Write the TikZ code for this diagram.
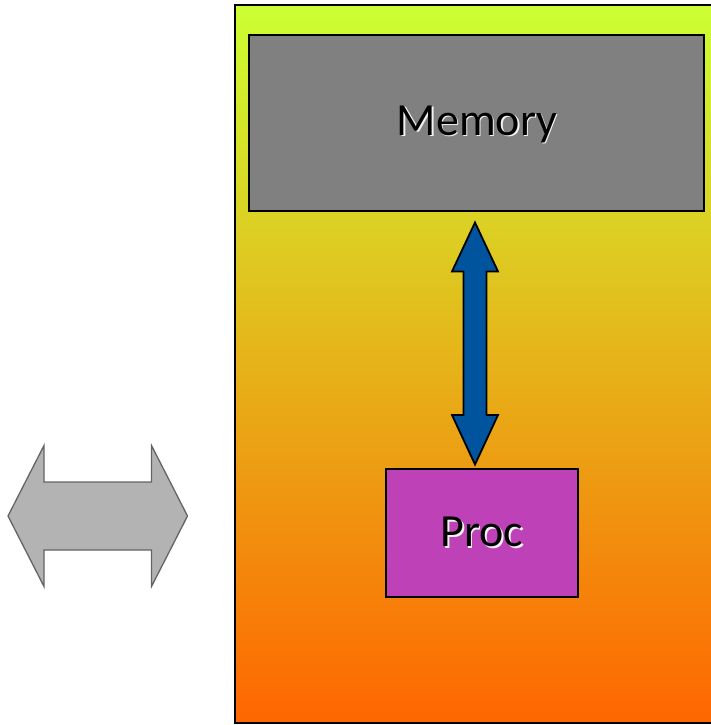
\documentclass[tikz,border=0pt]{standalone}
\usepackage{fontspec}
\setmainfont{Carlito}
\definecolor{panelTop}{RGB}{204,255,51}
\definecolor{panelMid}{RGB}{232,190,40}
\definecolor{panelBot}{RGB}{255,102,0}
\definecolor{memGray}{RGB}{128,128,128}
\definecolor{procMag}{RGB}{191,65,183}
\definecolor{busBlue}{RGB}{0,84,158}
\definecolor{linkGray}{RGB}{179,179,179}
\definecolor{linkEdge}{RGB}{100,100,100}
\tikzset{
  unitbox/.style={draw=black, line width=2pt, inner sep=0pt},
  embossed/.style={font=\fontsize{46}{50}\selectfont, text=black},
}
% text with a soft white drop shadow, set as one box
\newcommand{\embosstext}[1]{%
  \rlap{\kern1.5pt\raisebox{-1.5pt}{\textcolor{white!90!gray}{#1}}}#1}
\begin{document}
\begin{tikzpicture}[x=1pt, y=-1pt]
  \useasboundingbox (0,0) rectangle (711,725);

  % outer panel with vertical gradient (runs past the right edge)
  \shade[top color=panelTop, middle color=panelMid, bottom color=panelBot]
    (235,5) rectangle (720,723);
  \draw[line width=2pt] (720,5) -- (235,5) -- (235,723) -- (720,723);

  % memory block
  \node[unitbox, fill=memGray, minimum width=455pt, minimum height=176pt]
    (mem) at (476.5,123) {};
  \node[embossed] (memlabel) at (477,125) {\embosstext{Memory}};

  % processor block
  \node[unitbox, fill=procMag, minimum width=192pt, minimum height=128pt]
    (proc) at (482,533) {};
  \node[embossed] (proclabel) at (proc.center) {\embosstext{Proc}};

  % bus between memory and processor
  \coordinate (busTop) at (475,222.5);
  \coordinate (busBot) at (475,464.5);
  \filldraw[fill=busBlue, draw=black, line width=1.8pt, line join=miter]
    (busTop) -- (498,271.5) -- (486.5,271.5) -- (486.5,415) -- (498,415)
    -- (busBot) -- (452,415) -- (463.5,415) -- (463.5,271.5) -- (452,271.5) -- cycle;

  % external link arrow
  \coordinate (linkL) at (8,516);
  \coordinate (linkR) at (187.5,516);
  \filldraw[fill=linkGray, draw=linkEdge, line width=1.3pt, line join=miter]
    (linkL) -- (44,445.5) -- (44,482) -- (151.5,482) -- (151.5,445.5)
    -- (linkR) -- (151.5,586.5) -- (151.5,550) -- (44,550) -- (44,586.5) -- cycle;
\end{tikzpicture}
\end{document}
